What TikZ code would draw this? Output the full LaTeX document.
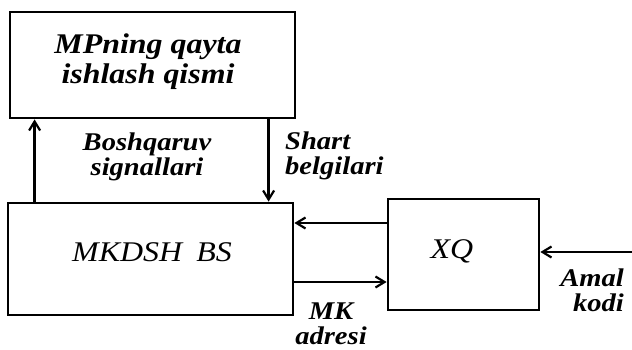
\documentclass[tikz,border=0pt]{standalone}
\usepackage{fontspec}
\setmainfont[FakeStretch=1.12]{Liberation Serif}
\usetikzlibrary{arrows.meta}
\begin{document}
\begin{tikzpicture}[x=1pt,y=-1pt,
  blk/.style={draw,line width=2.8pt,inner sep=0pt},
  conn/.style={line width=2.6pt,-{Straight Barb[length=9pt,width=11pt,line width=2.2pt]}},
  lbl/.style={font=\fontsize{25.5}{25}\selectfont\bfseries\itshape,align=center,inner sep=0pt},
  btxt/.style={font=\fontsize{28.5}{30}\selectfont\itshape,align=center,inner sep=0pt}]
\useasboundingbox (0,0) rectangle (632,350);
\node[blk,minimum width=285pt,minimum height=106pt] (mp) at (152.5,65) {};
\node[btxt,font=\fontsize{28.5}{30}\selectfont\bfseries\itshape] (mpt) at (148,62) {MPning qayta\\ishlash qismi};
\node[blk,minimum width=285pt,minimum height=112pt] (bs) at (150.5,259) {};
\node[btxt] (bst) at (152,252) {MKDSH\hspace{0.5em}BS};
\node[blk,minimum width=151pt,minimum height=111pt] (xq) at (463.5,254.5) {};
\node[btxt] (xqt) at (452,251) {XQ};
\coordinate (ext) at (632,252);
\draw[conn] ([xshift=28pt]bs.north west) -- ([xshift=26pt]mp.south west);
\draw[conn] ([xshift=260pt]mp.south west) -- ([xshift=262pt]bs.north west);
\draw[conn] (xq.west |- 0,223) -- (bs.east |- 0,223);
\draw[conn] (bs.east |- 0,282) -- (xq.west |- 0,282);
\draw[conn] (ext) -- (xq.east |- ext);
\node[lbl] (l1) at (147,157) {Boshqaruv\\signallari};
\node[lbl,align=left,anchor=west] (l2) at (285,156) {Shart\\belgilari};
\node[lbl] (l3) at (331,324) {MK\\adresi};
\node[lbl,align=right,anchor=east] (l4) at (624,290) {Amal\\kodi};
\end{tikzpicture}
\end{document}
